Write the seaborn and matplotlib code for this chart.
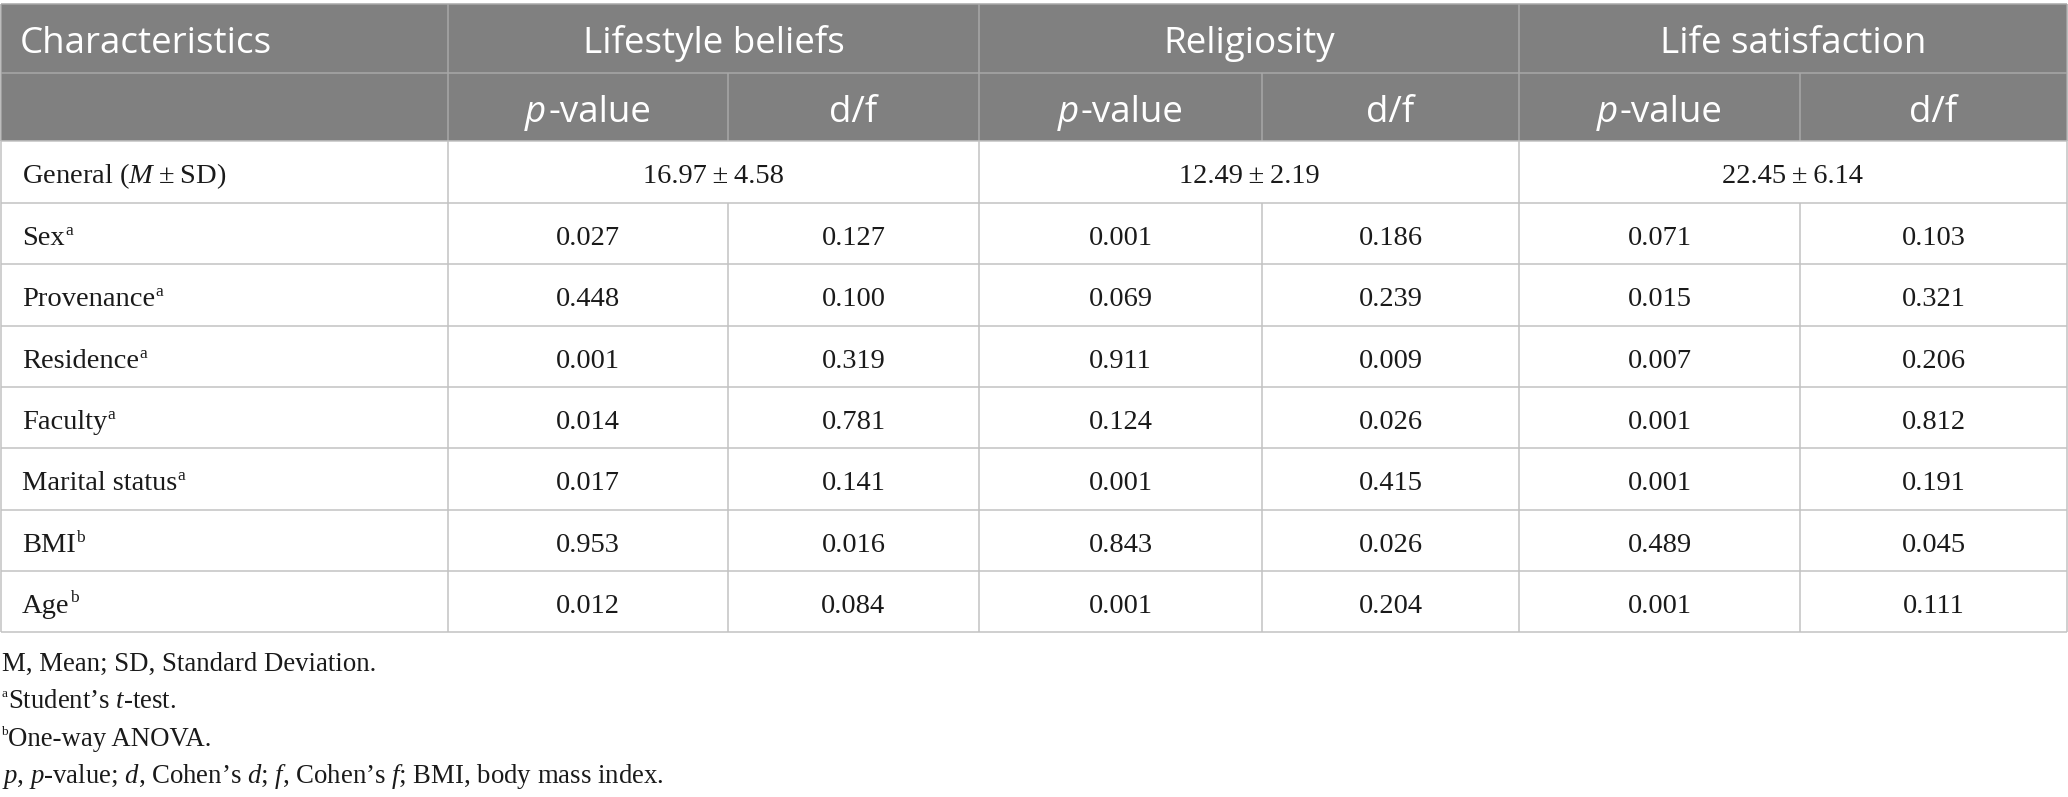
import matplotlib
matplotlib.use("Agg")
import matplotlib.pyplot as plt
import seaborn as sns

# ---------------- data ----------------
groups = ["Lifestyle beliefs", "Religiosity", "Life satisfaction"]
sub_headers = ["p-value", "d/f"]
characteristics = ["Sex", "Provenance", "Residence", "Faculty", "Marital status", "BMI", "Age"]
test_marks = ["a", "a", "a", "a", "a", "b", "b"]
general_mean = [16.97, 12.49, 22.45]
general_sd = [4.58, 2.19, 6.14]
lifestyle_p = [0.027, 0.448, 0.001, 0.014, 0.017, 0.953, 0.012]
lifestyle_df = [0.127, 0.100, 0.319, 0.781, 0.141, 0.016, 0.084]
religiosity_p = [0.001, 0.069, 0.911, 0.124, 0.001, 0.843, 0.001]
religiosity_df = [0.186, 0.239, 0.009, 0.026, 0.415, 0.026, 0.204]
satisfaction_p = [0.071, 0.015, 0.007, 0.001, 0.001, 0.489, 0.001]
satisfaction_df = [0.103, 0.321, 0.206, 0.812, 0.191, 0.045, 0.111]
footnote_abbrev = "M, Mean; SD, Standard Deviation."
footnote_a = "Student\u2019s $t$-test."
footnote_b = "One-way ANOVA."
footnote_p = ("$p$, $p$-value; $d$, Cohen\u2019s $d$; $f$, Cohen\u2019s $f$; "
              "BMI, body mass index.")

# ---------------- style ----------------
sns.set_theme(style="white")
plt.rcParams["font.family"] = ["Liberation Serif", "DejaVu Serif"]
plt.rcParams["mathtext.fontset"] = "custom"
plt.rcParams["mathtext.rm"] = "Liberation Serif"
plt.rcParams["mathtext.it"] = "Liberation Serif:italic"
plt.rcParams["mathtext.bf"] = "Liberation Serif:bold"
plt.rcParams["mathtext.sf"] = "Liberation Serif"

HEAD_BG = "#808080"
HEAD_LINE = "#a8a8a8"
BODY_LINE = "#c2c2c2"
TXT = "#1a1a1a"
SANS = ["Open Sans", "DejaVu Sans"]
SERIF = ["Liberation Serif", "DejaVu Serif"]
HEAD_FS = 26.5
BODY_FS = 20.5
SUP_FS = 12.5
FOOT_FS = 19.3
FOOT_SUP_FS = 9.5

W, H = 2068, 797
fig = plt.figure(figsize=(W / 100, H / 100), dpi=100)
ax = fig.add_axes([0, 0, 1, 1])
ax.set_xlim(0, W)
ax.set_ylim(H, 0)
ax.axis("off")
renderer = fig.canvas.get_renderer()

col_edges = [1, 448, 728, 979, 1262, 1519, 1800, 2067]
head_edges = [4, 73, 141]
body_edges = [141, 203, 264, 326, 387, 448, 510, 571, 632]
LW = 1.1

def width_of(t):
    return t.get_window_extent(renderer=renderer).width

# header background
ax.add_patch(plt.Rectangle((col_edges[0], head_edges[0]), col_edges[-1] - col_edges[0],
                           head_edges[-1] - head_edges[0], facecolor=HEAD_BG,
                           edgecolor="none", zorder=1))

# header lines
ax.hlines(head_edges[:2], col_edges[0], col_edges[-1], colors=HEAD_LINE, lw=LW, zorder=2)
for x in [col_edges[0], col_edges[1], col_edges[3], col_edges[5], col_edges[-1]]:
    ax.vlines(x, head_edges[0], head_edges[2], colors=HEAD_LINE, lw=LW, zorder=2)
for x in [col_edges[2], col_edges[4], col_edges[6]]:
    ax.vlines(x, head_edges[1], head_edges[2], colors=HEAD_LINE, lw=LW, zorder=2)

# body lines
ax.hlines(body_edges, col_edges[0], col_edges[-1], colors=BODY_LINE, lw=LW, zorder=2)
for x in [col_edges[0], col_edges[1], col_edges[3], col_edges[5], col_edges[-1]]:
    ax.vlines(x, body_edges[0], body_edges[-1], colors=BODY_LINE, lw=LW, zorder=2)
for x in [col_edges[2], col_edges[4], col_edges[6]]:
    ax.vlines(x, body_edges[1], body_edges[-1], colors=BODY_LINE, lw=LW, zorder=2)

# header text
ax.text(20, head_edges[0] + 49, "Characteristics", family=SANS, fontsize=HEAD_FS,
        color="white", ha="left", va="baseline", zorder=3)
for g, name in enumerate(groups):
    x0, x1 = col_edges[1 + 2 * g], col_edges[3 + 2 * g]
    ax.text((x0 + x1) / 2, head_edges[0] + 49, name, family=SANS, fontsize=HEAD_FS,
            color="white", ha="center", va="baseline", zorder=3)
    # p-value (italic p)
    cx = (col_edges[1 + 2 * g] + col_edges[2 + 2 * g]) / 2
    tp = ax.text(0, head_edges[1] + 49, "p", family=SANS, style="italic",
                 fontsize=HEAD_FS, color="white", ha="left", va="baseline", zorder=3)
    tv = ax.text(0, head_edges[1] + 49, "-value", family=SANS, fontsize=HEAD_FS,
                 color="white", ha="left", va="baseline", zorder=3)
    wp, wv = width_of(tp), width_of(tv)
    start = cx - (wp + wv + 2) / 2
    tp.set_x(start)
    tv.set_x(start + wp + 2)
    cx2 = (col_edges[2 + 2 * g] + col_edges[3 + 2 * g]) / 2
    ax.text(cx2, head_edges[1] + 49, sub_headers[1], family=SANS, fontsize=HEAD_FS,
            color="white", ha="center", va="baseline", zorder=3)

# general row
gb = body_edges[0] + 42
ax.text(22, gb, "General ($M$\u2009\u00b1\u2009SD)", family=SERIF, fontsize=BODY_FS,
        color=TXT, ha="left", va="baseline", zorder=3)
for g in range(3):
    x0, x1 = col_edges[1 + 2 * g], col_edges[3 + 2 * g]
    ax.text((x0 + x1) / 2, gb, f"{general_mean[g]:.2f}\u2009\u00b1\u2009{general_sd[g]:.2f}",
            family=SERIF, fontsize=BODY_FS, color=TXT, ha="center", va="baseline", zorder=3)

# data rows
columns = [lifestyle_p, lifestyle_df, religiosity_p, religiosity_df,
           satisfaction_p, satisfaction_df]
for i, (lab, mark) in enumerate(zip(characteristics, test_marks)):
    base = body_edges[1 + i] + 42
    t = ax.text(22, base, lab, family=SERIF, fontsize=BODY_FS, color=TXT,
                ha="left", va="baseline", zorder=3)
    w = width_of(t)
    ax.text(22 + w + 0.5, base - 10.5, mark, family=SERIF, fontsize=SUP_FS, color=TXT,
            ha="left", va="baseline", zorder=3)
    for j, vals in enumerate(columns):
        cx = (col_edges[1 + j] + col_edges[2 + j]) / 2
        ax.text(cx, base, f"{vals[i]:.3f}", family=SERIF, fontsize=BODY_FS, color=TXT,
                ha="center", va="baseline", zorder=3)

# footnotes
ax.text(2, 671, footnote_abbrev, family=SERIF, fontsize=FOOT_FS, color=TXT,
        ha="left", va="baseline")
for yb, mark, txt in [(708, "a", footnote_a), (746, "b", footnote_b)]:
    s = ax.text(1, yb - 11, mark, family=SERIF, fontsize=FOOT_SUP_FS, color=TXT,
                ha="left", va="baseline")
    ws = width_of(s)
    ax.text(1 + ws + 0.5, yb, txt, family=SERIF, fontsize=FOOT_FS, color=TXT,
            ha="left", va="baseline")
ax.text(2, 783, footnote_p, family=SERIF, fontsize=FOOT_FS, color=TXT,
        ha="left", va="baseline")

fig.savefig("out.png", dpi=100, facecolor="white")
